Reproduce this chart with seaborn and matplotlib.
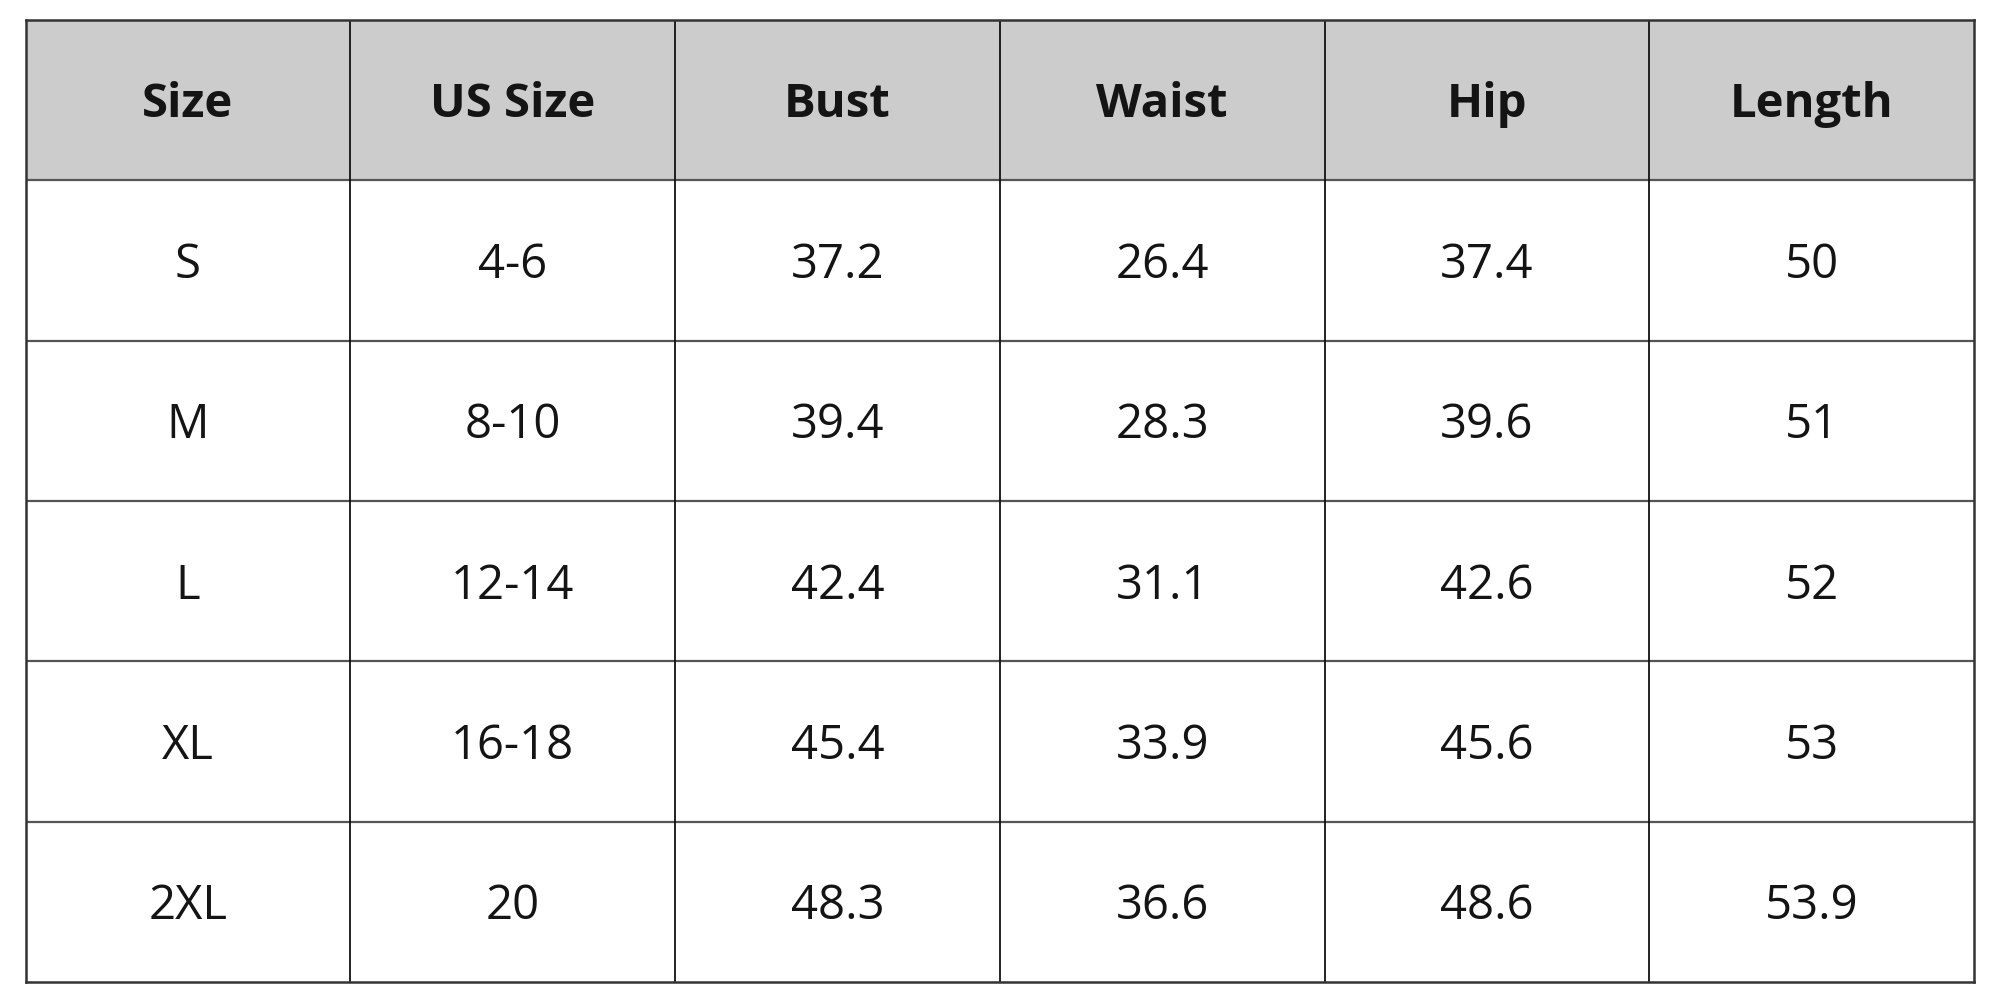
import numpy as np
import pandas as pd
import matplotlib
matplotlib.use("Agg")
import matplotlib.pyplot as plt
from matplotlib.colors import ListedColormap
import seaborn as sns

# Datos de la tabla de tallas
columns = ["Size", "US Size", "Bust", "Waist", "Hip", "Length"]
sizes = ["S", "M", "L", "XL", "2XL"]
us_sizes = ["4-6", "8-10", "12-14", "16-18", "20"]
bust = [37.2, 39.4, 42.4, 45.4, 48.3]
waist = [26.4, 28.3, 31.1, 33.9, 36.6]
hip = [37.4, 39.6, 42.6, 45.6, 48.6]
length = [50, 51, 52, 53, 53.9]

sns.set_theme(style="white")
plt.rcParams['font.family'] = ['Open Sans', 'DejaVu Sans']

df = pd.DataFrame({
    "Size": sizes,
    "US Size": us_sizes,
    "Bust": [f"{v:g}" for v in bust],
    "Waist": [f"{v:g}" for v in waist],
    "Hip": [f"{v:g}" for v in hip],
    "Length": [f"{v:g}" for v in length],
})

# Fila de encabezado + cuerpo
labels = np.vstack([np.array(columns), df[columns].to_numpy()])
fill = np.zeros(labels.shape)
fill[0, :] = 1

fig = plt.figure(figsize=(20, 10), dpi=100)
ax = fig.add_axes([25.5 / 2000, 1 - 982 / 1000, 1948.5 / 2000, 962 / 1000])

sns.heatmap(fill, ax=ax, cmap=ListedColormap(["white", "#cccccc"]),
            annot=labels, fmt="", cbar=False, linewidths=0,
            annot_kws={"fontsize": 34, "color": "#141414"},
            xticklabels=False, yticklabels=False)

n_cols = labels.shape[1]
for i, t in enumerate(ax.texts):
    if i < n_cols:
        t.set_fontweight("bold")
    x, y = t.get_position()
    t.set_position((x, y + 0.03))

# Líneas de la cuadrícula
for r in range(1, labels.shape[0]):
    ax.axhline(r, color="#555555", linewidth=1.6)
for c in range(1, n_cols):
    ax.axvline(c, color="#111111", linewidth=1.3)

for spine in ax.spines.values():
    spine.set_visible(True)
    spine.set_color("#333333")
    spine.set_linewidth(1.8)

fig.savefig("out.png", dpi=100, facecolor="white")
plt.close()
